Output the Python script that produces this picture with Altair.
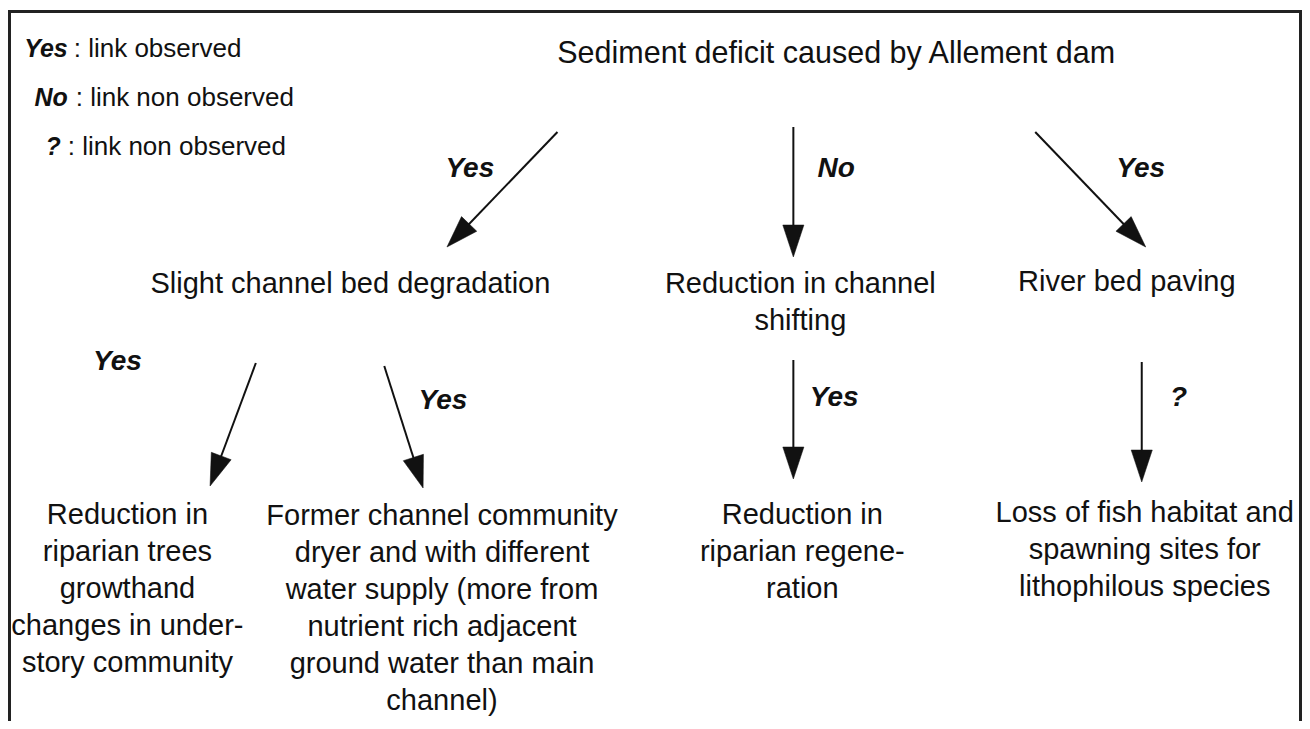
import math
import altair as alt
import pandas as pd

# ---------------- data (reference pixel coordinates) ----------------
X0, X1 = 8, 1308
Y0, Y1 = 8, 721
W, H = 1294, 713

node_lines = [
    ["Sediment deficit caused by Allement dam"],
    ["Slight channel bed degradation"],
    ["Reduction in channel", "shifting"],
    ["River bed paving"],
    ["Reduction in", "riparian trees", "growthand", "changes in under-", "story community"],
    ["Former channel community", "dryer and with different", "water supply (more from",
     "nutrient rich adjacent", "ground water than main", "channel)"],
    ["Reduction in", "riparian regene-", "ration"],
    ["Loss of fish habitat and", "spawning sites for", "lithophilous species"],
]
node_x = [840, 352, 804, 1132, 128, 444, 806, 1150]
node_y = [63, 293, 293, 291, 524, 525, 524, 522]
node_fs = [30.5, 29, 29, 29, 29, 29, 29, 29]
line_gap = 37

edge_labels = ["Yes", "No", "Yes", "Yes", "Yes", "Yes", "?"]
edge_label_x = [472, 840, 1146, 118, 445, 838, 1184]
edge_label_y = [177, 177, 177, 370, 409, 406, 406]

arrow_x1 = [560, 797, 1040, 257, 386, 797, 1147]
arrow_y1 = [132, 127, 132, 363, 366, 360, 362]
arrow_x2 = [449, 797, 1151, 211, 425, 797, 1147]
arrow_y2 = [247, 257, 247, 486, 488, 479, 482]

legend_key = ["Yes", "No", "?"]
legend_desc = [": link observed", ": link non observed", ": link non observed"]
legend_key_x = [68, 68, 61]
legend_desc_x = [74, 76, 68]
legend_y = [57, 106, 155]

HEAD_LEN = 32
FONT = "Liberation Sans"
INK = "#111111"

# ---------------- tables ----------------
rows = []
for lines, cx, cy, fs in zip(node_lines, node_x, node_y, node_fs):
    for i, t in enumerate(lines):
        rows.append({"x": cx, "y": cy + i * line_gap, "text": t, "fs": fs})
nodes_df = pd.DataFrame(rows)

labels_df = pd.DataFrame({"x": edge_label_x, "y": edge_label_y, "text": edge_labels})

sx = W / (X1 - X0)
sy = H / (Y1 - Y0)
shaft, heads = [], []
for a, b, c, d in zip(arrow_x1, arrow_y1, arrow_x2, arrow_y2):
    dx, dy = (c - a) * sx, (d - b) * sy
    ln = math.hypot(dx, dy)
    ang = math.degrees(math.atan2(-dx, dy)) % 360
    back = HEAD_LEN * 0.5
    ex = c - dx / ln * back / sx
    ey = d - dy / ln * back / sy
    shaft.append({"x": a, "y": b, "x2": ex, "y2": ey})
    heads.append({"x": c, "y": d, "angle": ang})
shaft_df = pd.DataFrame(shaft)
heads_df = pd.DataFrame(heads)

legend_key_df = pd.DataFrame({"x": legend_key_x, "y": legend_y, "text": legend_key})
legend_desc_df = pd.DataFrame({"x": legend_desc_x, "y": legend_y, "text": legend_desc})

frame_df = pd.DataFrame({"x": [9.5], "x2": [1306.5], "y": [11.5], "y2": [760]})

xs = alt.Scale(domain=[X0, X1], nice=False, zero=False)
ys = alt.Scale(domain=[Y0, Y1], nice=False, zero=False, reverse=True)
X = lambda f="x": alt.X(f + ":Q", scale=xs, axis=None)
Y = lambda f="y": alt.Y(f + ":Q", scale=ys, axis=None)

frame = alt.Chart(frame_df).mark_rect(
    fill=None, fillOpacity=0, stroke="#222222", strokeWidth=3
).encode(x=X(), x2="x2:Q", y=Y(), y2="y2:Q")

nodes = alt.Chart(nodes_df).mark_text(
    font=FONT, align="center", baseline="alphabetic", color=INK
).encode(x=X(), y=Y(), text="text:N",
         size=alt.Size("fs:Q", scale=None, legend=None))

labels = alt.Chart(labels_df).mark_text(
    font=FONT, fontSize=28, fontWeight="bold", fontStyle="italic",
    align="center", baseline="alphabetic", color=INK
).encode(x=X(), y=Y(), text="text:N")

shafts = alt.Chart(shaft_df).mark_rule(color=INK, strokeWidth=2).encode(
    x=X(), y=Y(), x2="x2:Q", y2="y2:Q")

head_path = "M0,0L-0.66,-2L0.66,-2Z"
arrowheads = alt.Chart(heads_df).mark_point(
    shape=head_path, size=HEAD_LEN * HEAD_LEN, filled=True, fill=INK,
    stroke=INK, strokeWidth=0.5, opacity=1
).encode(x=X(), y=Y(), angle=alt.Angle("angle:Q", scale=None))

leg_key = alt.Chart(legend_key_df).mark_text(
    font=FONT, fontSize=25, fontWeight="bold", fontStyle="italic",
    align="right", baseline="alphabetic", color=INK
).encode(x=X(), y=Y(), text="text:N")

leg_desc = alt.Chart(legend_desc_df).mark_text(
    font=FONT, fontSize=26, align="left", baseline="alphabetic", color=INK
).encode(x=X(), y=Y(), text="text:N")

chart = alt.layer(
    frame, shafts, arrowheads, nodes, labels, leg_key, leg_desc
).properties(
    width=W, height=H, padding=0, autosize=alt.AutoSizeParams(type="none"),
    background="white"
).configure_view(stroke=None)

chart.save("out.html", embed_options={"renderer": "svg", "actions": False})
